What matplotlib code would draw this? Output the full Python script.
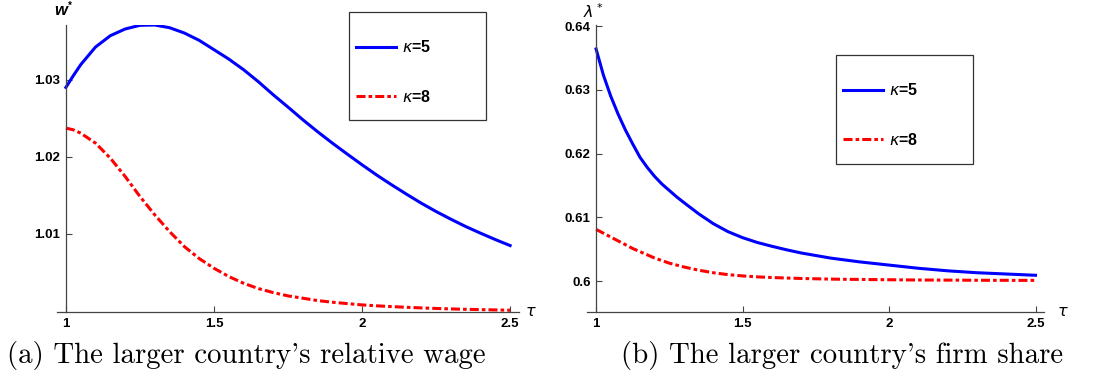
import matplotlib
matplotlib.use("Agg")
import matplotlib.pyplot as plt
from matplotlib.patches import Rectangle

plt.rcParams['lines.scale_dashes'] = False

# valores (a)
tau_a = [1.0, 1.025, 1.05, 1.1, 1.15, 1.2, 1.25, 1.3, 1.35, 1.4, 1.45, 1.5, 1.55, 1.6,
         1.65, 1.7, 1.75, 1.8, 1.85, 1.9, 1.95, 2.0, 2.05, 2.1, 2.15, 2.2, 2.25, 2.3,
         2.35, 2.4, 2.45, 2.5]
w_k5 = [1.02900, 1.03052, 1.03195, 1.03424, 1.03571, 1.03658, 1.03706, 1.03710, 1.03675,
        1.03606, 1.03511, 1.03390, 1.03268, 1.03130, 1.02974, 1.02805, 1.02645, 1.02481,
        1.02325, 1.02177, 1.02035, 1.01896, 1.01762, 1.01636, 1.01515, 1.01398, 1.01290,
        1.01190, 1.01095, 1.01009, 1.00926, 1.00848]
w_k8 = [1.02372, 1.02350, 1.02307, 1.02177, 1.01983, 1.01745, 1.01485, 1.01247, 1.01030,
        1.00835, 1.00680, 1.00554, 1.00446, 1.00359, 1.00290, 1.00238, 1.00195, 1.00165,
        1.00134, 1.00113, 1.00095, 1.00078, 1.00066, 1.00056, 1.00047, 1.00039, 1.00032,
        1.00026, 1.00021, 1.00017, 1.00013, 1.00009]

# valores (b)
tau_b = [1.0, 1.025, 1.05, 1.075, 1.1, 1.125, 1.15, 1.175, 1.2, 1.225, 1.25, 1.275, 1.3,
         1.35, 1.4, 1.45, 1.5, 1.55, 1.6, 1.65, 1.7, 1.75, 1.8, 1.85, 1.9, 1.95, 2.0,
         2.05, 2.1, 2.15, 2.2, 2.25, 2.3, 2.35, 2.4, 2.45, 2.5]
lam_k5 = [0.6364, 0.6323, 0.6290, 0.6262, 0.6237, 0.6215, 0.6194, 0.6178, 0.6164, 0.6152,
          0.6142, 0.6132, 0.6123, 0.61055, 0.6090, 0.60775, 0.6068, 0.60605, 0.60545,
          0.6049, 0.6044, 0.6040, 0.6036, 0.6033, 0.6030, 0.60275, 0.6025, 0.60225,
          0.6020, 0.6018, 0.6016, 0.60145, 0.6013, 0.6012, 0.6011, 0.6010, 0.6009]
lam_k8 = [0.6081, 0.6075, 0.6069, 0.6063, 0.6057, 0.6051, 0.6046, 0.6041, 0.6036, 0.6032,
          0.6028, 0.6025, 0.6022, 0.6017, 0.6013, 0.6010, 0.6008, 0.60065, 0.60055,
          0.60047, 0.6004, 0.60035, 0.6003, 0.60027, 0.60025, 0.60022, 0.6002, 0.60018,
          0.60016, 0.60015, 0.60014, 0.60013, 0.60012, 0.60011, 0.60011, 0.6001, 0.6001]

rotulos_legenda = [r"$\kappa$=5", r"$\kappa$=8"]
legendas = ["(a) The larger country's relative wage", "(b) The larger country's firm share"]

W, H = 1109, 383
fig = plt.figure(figsize=(W / 100, H / 100), dpi=100)


def px(x, y):
    return x / W, 1 - y / H


def eixo(x0, x1, y0, y1, xlim, ylim, yticks):
    ax = fig.add_axes([x0 / W, 1 - y1 / H, (x1 - x0) / W, (y1 - y0) / H])
    ax.set_xlim(*xlim)
    ax.set_ylim(*ylim)
    for lado in ["top", "right"]:
        ax.spines[lado].set_visible(False)
    ax.spines["left"].set_position(("data", 1))
    for lado in ["left", "bottom"]:
        ax.spines[lado].set_color("#444444")
        ax.spines[lado].set_linewidth(0.9)
    ax.set_xticks([1, 1.5, 2, 2.5])
    ax.set_xticklabels(["1", "1.5", "2", "2.5"])
    ax.set_yticks(yticks)
    ax.tick_params(direction="in", length=4, width=0.8, color="#444444",
                   labelsize=9.5, pad=4)
    for t in ax.get_xticklabels() + ax.get_yticklabels():
        t.set_fontfamily("Liberation Sans")
        t.set_fontweight("bold")
    ax.patch.set_alpha(0)
    return ax


tracejado = (6.5, 2.2, 2.6, 2.2)

# gráfico (a)
ax1 = eixo(57, 519, 25, 312, (0.970, 2.530), (0.99986, 1.0371), [1.01, 1.02, 1.03])
ax1.set_yticklabels(["1.01", "1.02", "1.03"])
ax1.plot(tau_a, w_k5, color=(0, 0, 1), lw=2.2)
ax1.plot(tau_a, w_k8, color=(1, 0, 0), lw=2.2, dashes=tracejado)

# gráfico (b)
ax2 = eixo(587, 1044, 25, 312, (0.969, 2.529), (0.59514, 0.64016),
           [0.6, 0.61, 0.62, 0.63, 0.64])
ax2.set_yticklabels(["0.6", "0.61", "0.62", "0.63", "0.64"])
ax2.plot(tau_b, lam_k5, color=(0, 0, 1), lw=2.2)
ax2.plot(tau_b, lam_k8, color=(1, 0, 0), lw=2.2, dashes=tracejado)

# rótulos dos eixos
fig.text(*px(54, 15), "w", fontfamily="Liberation Sans", fontweight="bold",
         fontstyle="italic", fontsize=12, va="baseline")
fig.text(*px(68, 9), "*", fontfamily="Liberation Sans", fontweight="bold", fontsize=7,
         va="baseline")
fig.text(*px(583, 18), r"$\lambda^*$", fontsize=11.5, va="baseline")
for x in [525, 1057]:
    fig.text(*px(x, 316), r"$\tau$", fontsize=11.5, va="baseline")

# legendas (caixa desenhada à parte)
for ax, caixa, ancora in [(ax1, (349, 12, 486, 120), (356, 72)),
                          (ax2, (836, 55, 973, 164), (843, 115))]:
    x0, y0, x1, y1 = caixa
    fig.patches.append(Rectangle(px(x0, y1), (x1 - x0) / W, (y1 - y0) / H,
                                 transform=fig.transFigure, fill=False,
                                 edgecolor="#333333", lw=0.9))
    ax.legend(ax.get_lines(), rotulos_legenda, loc="center left", bbox_to_anchor=px(*ancora),
              bbox_transform=fig.transFigure, frameon=False, borderpad=0,
              borderaxespad=0, handlelength=2.5, handletextpad=0.38,
              labelspacing=2.08, prop={"family": "Liberation Sans", "weight": "bold",
                                       "size": 11.5})

# legendas das figuras
for (x, y), texto in zip([(246, 355), (842, 355)], legendas):
    fig.text(*px(x, y), texto, fontfamily="cmr10", fontsize=20.8, ha="center", va="center")

fig.savefig("out.png", dpi=100)
